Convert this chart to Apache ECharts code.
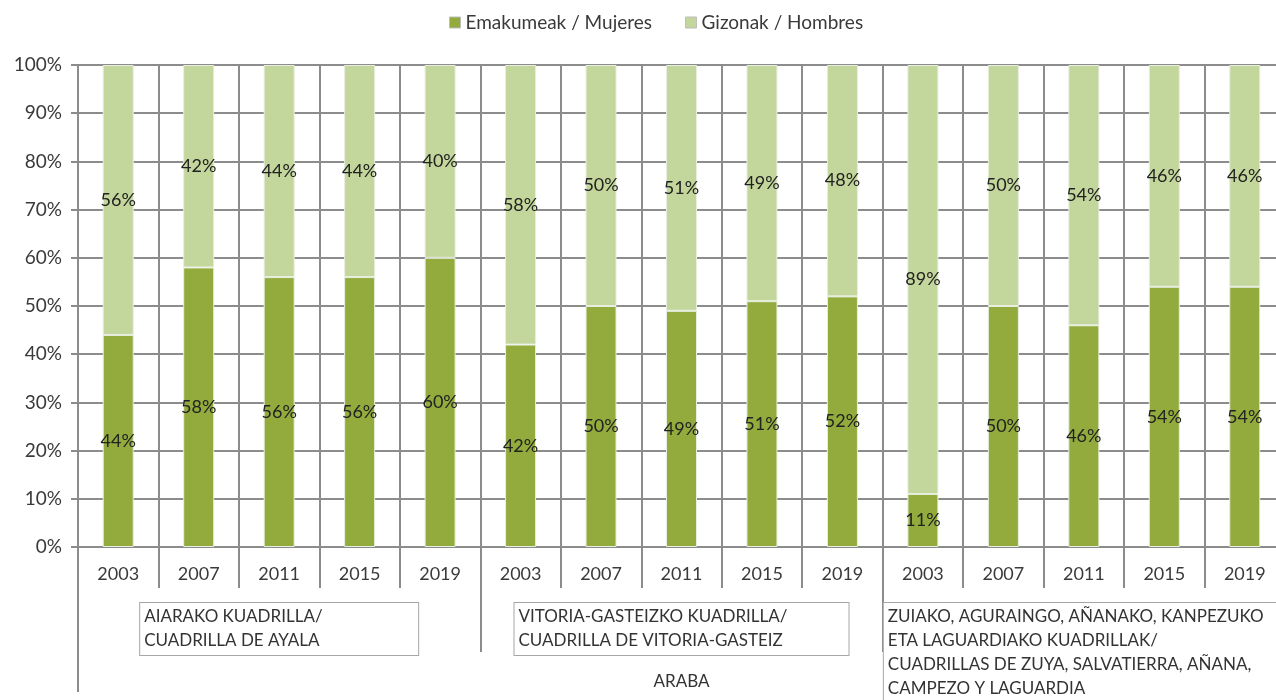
<!DOCTYPE html>
<html>
<head>
<meta charset="utf-8">
<script src="https://cdn.jsdelivr.net/npm/echarts@6/dist/echarts.min.js"></script>
<style>
  html, body { margin: 0; padding: 0; background: #fff; }
  #chart { width: 1276px; height: 700px; }
</style>
</head>
<body>
<div id="chart"></div>
<script>
const YEARS = ['2003', '2007', '2011', '2015', '2019'];
const GROUPS = [
  ['AIARAKO KUADRILLA/', 'CUADRILLA DE AYALA'],
  ['VITORIA-GASTEIZKO KUADRILLA/', 'CUADRILLA DE VITORIA-GASTEIZ'],
  ['ZUIAKO, AGURAINGO, AÑANAKO, KANPEZUKO', 'ETA LAGUARDIAKO KUADRILLAK/',
   'CUADRILLAS DE ZUYA, SALVATIERRA, AÑANA,', 'CAMPEZO Y LAGUARDIA'],
];
const TOP_LEVEL = ['ARABA'];

// % women per group, in year order
const WOMEN = [
  44, 58, 56, 56, 60,
  42, 50, 49, 51, 52,
  11, 50, 46, 54, 54,
];
const MEN = [
  56, 42, 44, 44, 40,
  58, 50, 51, 49, 48,
  89, 50, 54, 46, 46,
];

const SERIES_NAMES = ['Emakumeak / Mujeres', 'Gizonak / Hombres'];
const COLORS = ['#93ab3d', '#c3d69b'];

const FONT = 'Lato';
const TEXT = '#3a3a3a';
const LINE = '#8c8c8c';

// unique category keys, label shows only the year
const categories = [];
GROUPS.forEach((g, gi) => YEARS.forEach((y) => categories.push(y + '|' + gi)));

const groupWidths = [270, 326, 392];
const rich = {};
groupWidths.forEach((w, i) => {
  rich['g' + i] = { width: w, align: 'left', lineHeight: 24, fontSize: 17, fontFamily: FONT, color: '#333' };
});

const chart = echarts.init(document.getElementById('chart'));

const option = {
  backgroundColor: '#fff',
  animation: false,
  color: COLORS,
  legend: {
    top: 8,
    left: 444,
    itemWidth: 11,
    itemHeight: 11,
    itemGap: 33,
    icon: 'rect',
    itemStyle: { borderColor: '#bdbdbd', borderWidth: 1 },
    textStyle: { fontFamily: FONT, fontSize: 19, color: TEXT },
    data: SERIES_NAMES,
  },
  grid: {
    left: 78,
    right: -9,
    top: 65,
    bottom: 153,
    containLabel: false,
    outerBoundsMode: 'none',
  },
  xAxis: [
    {
      type: 'category',
      position: 'bottom',
      data: categories,
      axisLine: { show: true, lineStyle: { color: LINE, width: 2 } },
      axisTick: { show: true, interval: 0, length: 41, lineStyle: { color: LINE, width: 2 } },
      splitLine: { show: true, interval: 0, lineStyle: { color: LINE, width: 2 } },
      axisLabel: {
        interval: 0,
        margin: 18,
        fontFamily: FONT,
        fontSize: 18,
        color: TEXT,
        formatter: (v) => v.split('|')[0],
      },
    },
    {
      type: 'category',
      position: 'bottom',
      data: GROUPS.map((g) => g.join('\n')),
      axisLine: { show: false },
      axisTick: { show: true, interval: 0, length: 105, lineStyle: { color: LINE, width: 2 } },
      splitLine: { show: false },
      axisLabel: {
        interval: 0,
        margin: 56,
        verticalAlign: 'top',
        backgroundColor: '#fff',
        borderColor: '#a6a6a6',
        borderWidth: 1,
        padding: [2, 4, 2, 4],
        formatter: (v, i) => v.split('\n').map((l) => '{g' + i + '|' + l + '}').join('\n'),
        rich,
      },
    },
    {
      type: 'category',
      position: 'bottom',
      data: TOP_LEVEL,
      axisLine: { show: false },
      axisTick: { show: true, interval: 0, length: 145, lineStyle: { color: LINE, width: 2 } },
      splitLine: { show: false },
      axisLabel: {
        interval: 0,
        margin: 126,
        fontFamily: FONT,
        fontSize: 17,
        color: '#333',
      },
    },
  ],
  yAxis: {
    type: 'value',
    min: 0,
    max: 100,
    interval: 10,
    axisLine: { show: true, lineStyle: { color: LINE, width: 2 } },
    axisTick: { show: true, length: 7, lineStyle: { color: LINE, width: 2 } },
    splitLine: { show: true, lineStyle: { color: LINE, width: 2 } },
    axisLabel: {
      margin: 16,
      fontFamily: FONT,
      fontSize: 19,
      color: TEXT,
      formatter: '{value}%',
    },
  },
  series: [WOMEN, MEN].map((vals, i) => ({
    name: SERIES_NAMES[i],
    type: 'bar',
    stack: 'total',
    xAxisIndex: 0,
    barWidth: 31,
    data: vals,
    itemStyle: { color: COLORS[i], borderColor: '#e8eee0', borderWidth: 1 },
    label: {
      show: true,
      position: 'inside',
      formatter: '{c}%',
      fontFamily: FONT,
      fontSize: 18,
      color: '#222',
    },
  })),
};

chart.setOption(option);
</script>
</body>
</html>
